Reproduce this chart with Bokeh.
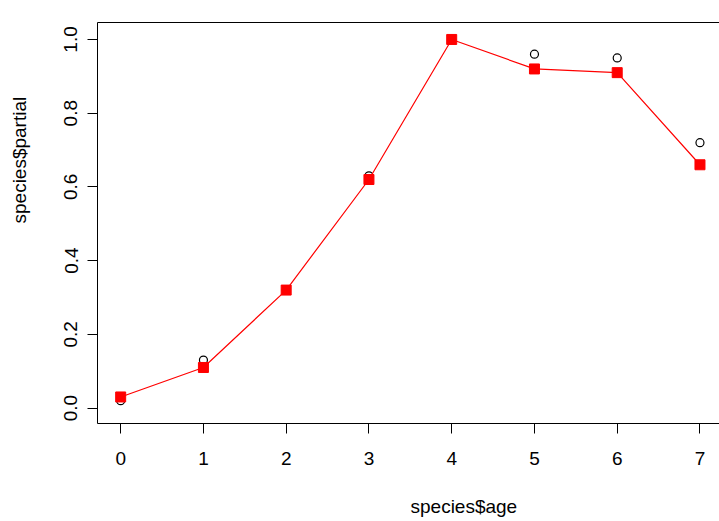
from bokeh.plotting import figure
from bokeh.models import Range1d, FixedTicker, LinearAxis, Title
from bokeh.embed import file_html
from bokeh.resources import INLINE

age = [0, 1, 2, 3, 4, 5, 6, 7]
observed = [0.02, 0.13, 0.32, 0.63, 1.00, 0.96, 0.95, 0.72]
fitted = [0.03, 0.11, 0.32, 0.62, 1.00, 0.92, 0.91, 0.66]
x_ticks = [0, 1, 2, 3, 4, 5, 6, 7]
y_ticks = [0.0, 0.2, 0.4, 0.6, 0.8, 1.0]
y_tick_labels = {0.0: "0.0", 0.2: "0.2", 0.4: "0.4", 0.6: "0.6", 0.8: "0.8", 1.0: "1.0"}
x_title = "species$age"
y_title = "species$partial"

FONT = "Liberation Sans"
FS = "19px"

xr = Range1d(-0.28, 7.236)
yr = Range1d(-0.042, 1.046)
p = figure(width=719, height=521, output_backend="svg", toolbar_location=None,
           x_range=xr, y_range=yr,
           min_border_left=97, min_border_right=0, min_border_top=22, min_border_bottom=98)
p.outline_line_color = None
p.grid.visible = False
p.background_fill_color = "white"
p.border_fill_color = "white"

p.xaxis.ticker = FixedTicker(ticks=x_ticks)
p.yaxis.ticker = FixedTicker(ticks=y_ticks)
p.yaxis.major_label_overrides = y_tick_labels
p.yaxis.major_label_orientation = "vertical"

for ax in (p.xaxis[0], p.yaxis[0]):
    ax.axis_line_color = "black"
    ax.axis_line_width = 1
    ax.major_tick_line_color = "black"
    ax.major_tick_in = 0
    ax.major_tick_out = 10
    ax.minor_tick_line_color = None
    ax.major_label_text_font = FONT
    ax.major_label_text_font_size = FS
    ax.major_label_text_color = "black"
    # blank axis label used only as a gap before the titles
    ax.axis_label = " "
    ax.axis_label_text_font_size = "1px"

p.xaxis.major_label_standoff = 18
p.yaxis.major_label_standoff = 10
p.xaxis.axis_label_standoff = 24
p.yaxis.axis_label_standoff = 26

# top border of the box
top = LinearAxis(ticker=FixedTicker(ticks=[]), axis_line_color="black",
                 major_tick_line_color=None, minor_tick_line_color=None,
                 major_label_text_font_size="0px")
p.add_layout(top, "above")

p.add_layout(Title(text=x_title, align="left", offset=313, vertical_align="top",
                   standoff=0, text_font=FONT, text_font_size=FS,
                   text_font_style="normal", text_color="black"), "below")
p.add_layout(Title(text=y_title, align="left", offset=200, vertical_align="top",
                   standoff=0, text_font=FONT, text_font_size=FS,
                   text_font_style="normal", text_color="black"), "left")

p.scatter(age, observed, marker="circle", size=8, fill_color=None,
          line_color="black", line_width=1.2)
p.line(age, fitted, line_color="red", line_width=1.2)
p.scatter(age, fitted, marker="square", size=10, fill_color="red", line_color="red")

open("out.html", "w").write(file_html(p, INLINE))
